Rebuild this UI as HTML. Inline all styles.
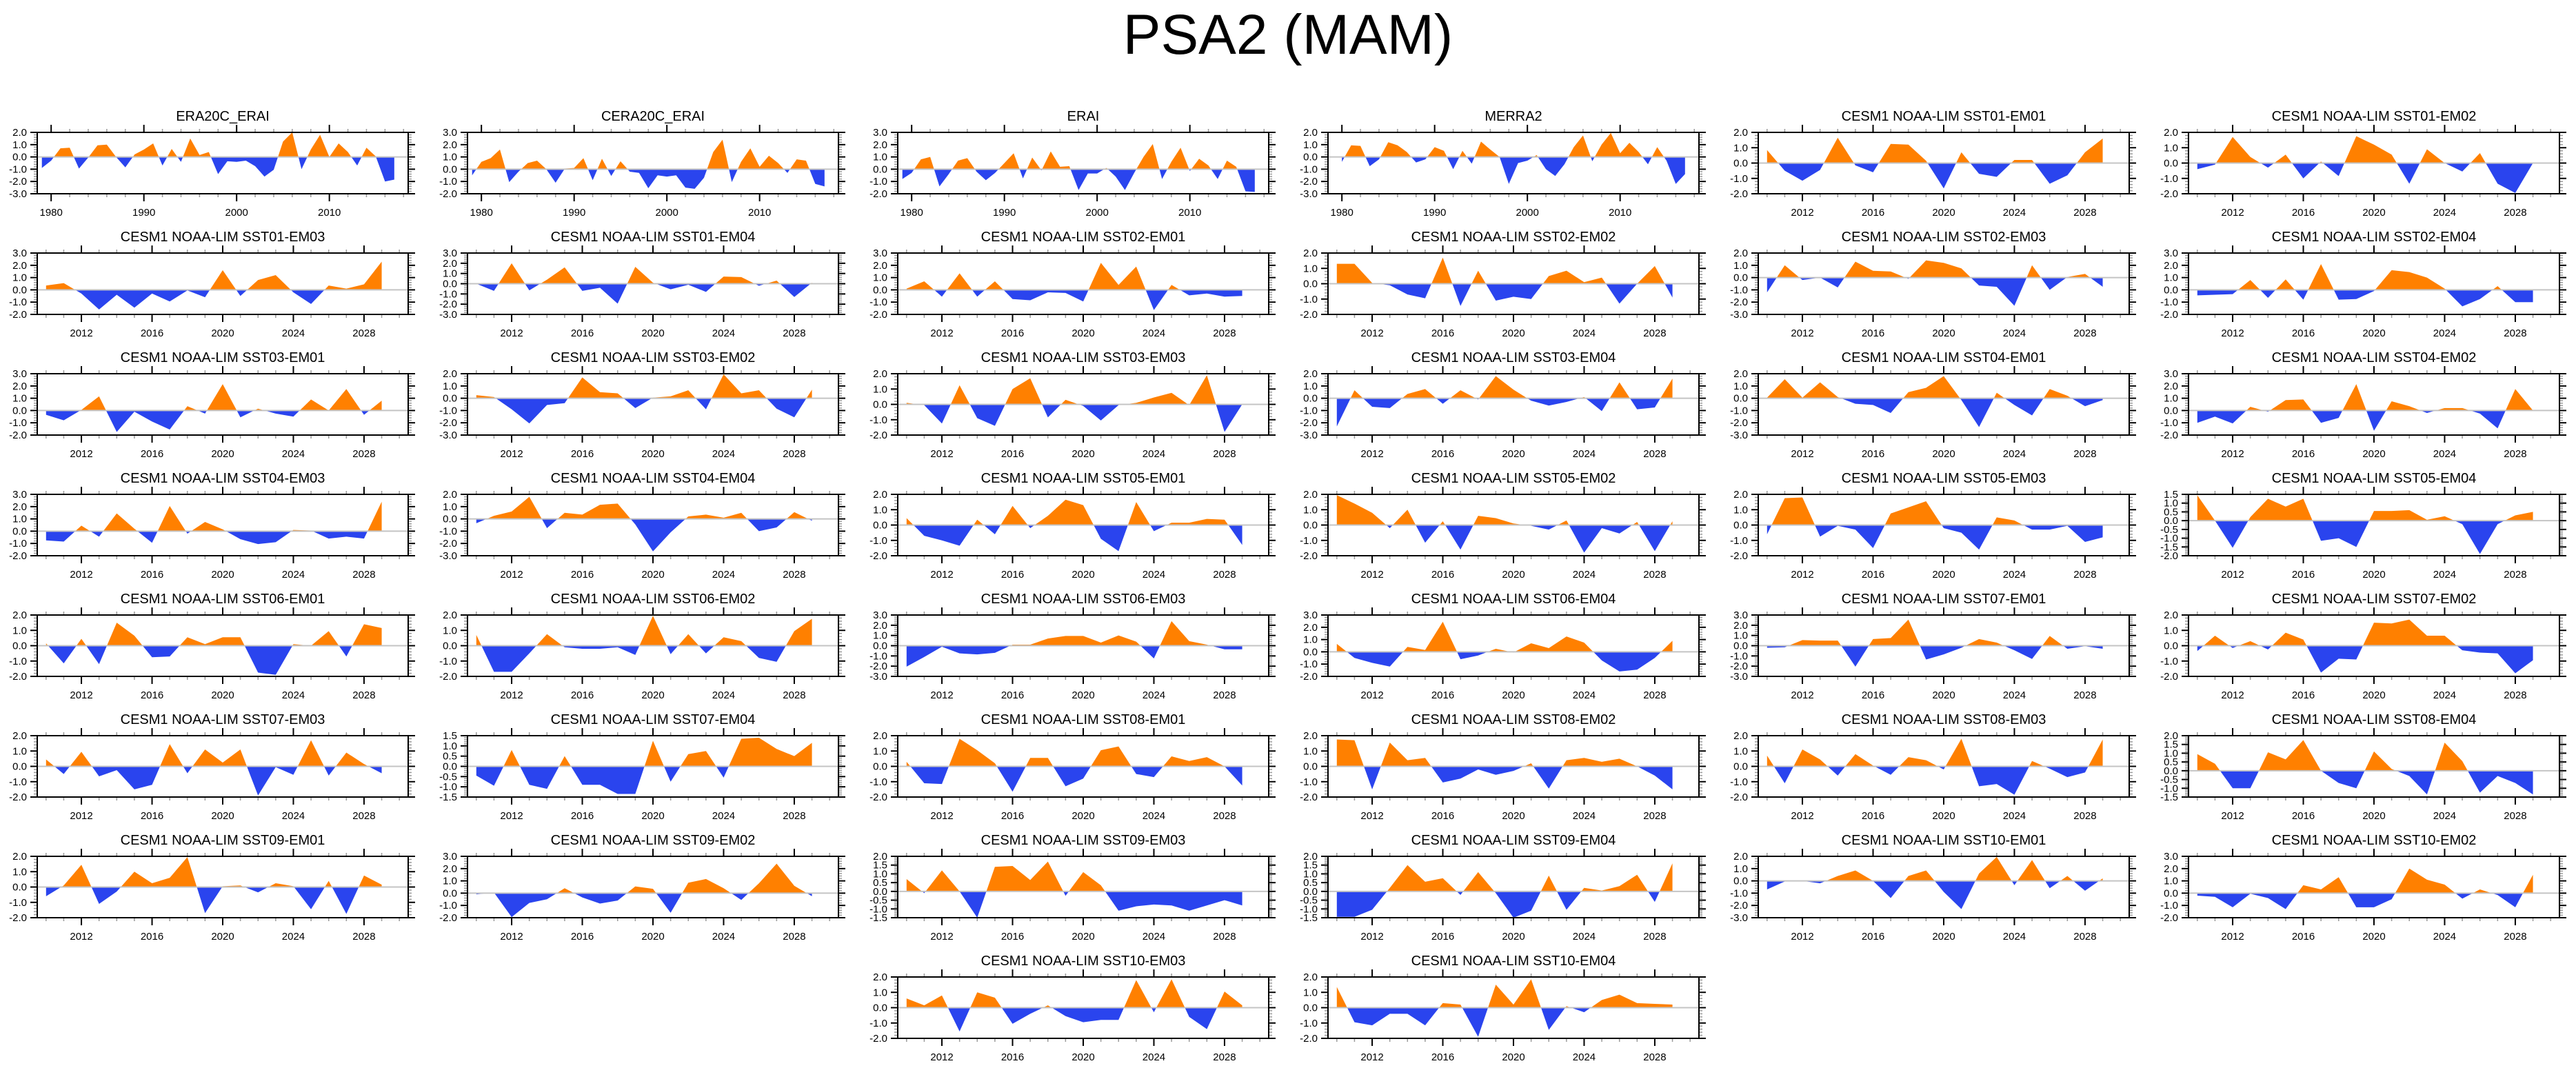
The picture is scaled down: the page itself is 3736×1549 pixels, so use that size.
<!DOCTYPE html>
<html><head><meta charset="utf-8"><title>PSA2 (MAM)</title>
<style>
html,body{margin:0;padding:0;background:#fff;}
svg{display:block;font-family:"Liberation Sans",Arial,sans-serif;}
</style></head>
<body>
<svg id="chart" width="3736" height="1549" viewBox="0 0 3736 1549" xmlns="http://www.w3.org/2000/svg">
<rect width="3736" height="1549" fill="#fff"/>
<text x="1868" y="78" text-anchor="middle" font-size="82" fill="#000">PSA2 (MAM)</text>
</svg>
<script>
const titles = ["ERA20C_ERAI","CERA20C_ERAI","ERAI","MERRA2",
"CESM1 NOAA-LIM SST01-EM01","CESM1 NOAA-LIM SST01-EM02","CESM1 NOAA-LIM SST01-EM03","CESM1 NOAA-LIM SST01-EM04",
"CESM1 NOAA-LIM SST02-EM01","CESM1 NOAA-LIM SST02-EM02","CESM1 NOAA-LIM SST02-EM03","CESM1 NOAA-LIM SST02-EM04",
"CESM1 NOAA-LIM SST03-EM01","CESM1 NOAA-LIM SST03-EM02","CESM1 NOAA-LIM SST03-EM03","CESM1 NOAA-LIM SST03-EM04",
"CESM1 NOAA-LIM SST04-EM01","CESM1 NOAA-LIM SST04-EM02","CESM1 NOAA-LIM SST04-EM03","CESM1 NOAA-LIM SST04-EM04",
"CESM1 NOAA-LIM SST05-EM01","CESM1 NOAA-LIM SST05-EM02","CESM1 NOAA-LIM SST05-EM03","CESM1 NOAA-LIM SST05-EM04",
"CESM1 NOAA-LIM SST06-EM01","CESM1 NOAA-LIM SST06-EM02","CESM1 NOAA-LIM SST06-EM03","CESM1 NOAA-LIM SST06-EM04",
"CESM1 NOAA-LIM SST07-EM01","CESM1 NOAA-LIM SST07-EM02","CESM1 NOAA-LIM SST07-EM03","CESM1 NOAA-LIM SST07-EM04",
"CESM1 NOAA-LIM SST08-EM01","CESM1 NOAA-LIM SST08-EM02","CESM1 NOAA-LIM SST08-EM03","CESM1 NOAA-LIM SST08-EM04",
"CESM1 NOAA-LIM SST09-EM01","CESM1 NOAA-LIM SST09-EM02","CESM1 NOAA-LIM SST09-EM03","CESM1 NOAA-LIM SST09-EM04",
"CESM1 NOAA-LIM SST10-EM01","CESM1 NOAA-LIM SST10-EM02","CESM1 NOAA-LIM SST10-EM03","CESM1 NOAA-LIM SST10-EM04"];

const startYears = [1979,1979,1979,1980];
const modelStartYear = 2010;

const yMins = [-3,-2,-2,-3,-2,-2,-2,-3,-2,-2,-3,-2,-2,-3,-2,-3,-3,-2,-2,-3,-2,-2,-2,-2,-2,-2,-3,-2,-3,-2,-2,-1.5,-2,-2,-2,-1.5,-2,-2,-1.5,-1.5,-3,-2,-2,-2];
const yMaxs = [2,3,3,2,2,2,3,3,3,2,2,3,3,2,2,2,2,3,3,2,2,2,2,1.5,2,2,3,3,3,2,2,1.5,2,2,2,2,2,3,2,2,2,3,2,2];
const ySteps = [1,1,1,1,1,1,1,1,1,1,1,1,1,1,1,1,1,1,1,1,1,1,1,0.5,1,1,1,1,1,1,1,0.5,1,1,1,0.5,1,1,0.5,0.5,1,1,1,1];

const series = [
[-0.9,-0.3,0.7,0.75,-0.95,-0.05,0.95,1.0,0.0,-0.85,0.2,0.6,1.1,-0.7,0.65,-0.4,1.5,0.15,0.4,-1.4,-0.35,-0.4,-0.3,-0.75,-1.6,-1.05,1.25,2.0,-1.0,0.6,1.8,0.0,1.1,0.4,-0.7,0.75,0.05,-2.0,-1.85],
[-0.5,0.6,0.9,1.6,-1.05,-0.2,0.5,0.7,0.0,-1.1,0.05,0.1,0.9,-0.9,0.85,-0.55,0.65,-0.2,-0.3,-1.55,-0.5,-0.6,-0.5,-1.5,-1.6,-0.7,1.4,2.4,-1.05,0.6,1.7,0.2,1.1,0.5,-0.3,0.8,0.7,-1.2,-1.4],
[-0.8,-0.3,0.8,1.0,-1.4,-0.4,0.7,0.9,-0.2,-0.9,-0.3,0.5,1.3,-0.75,0.95,-0.1,1.45,0.2,0.25,-1.7,-0.35,-0.35,0.1,-0.6,-1.7,-0.3,1.0,2.05,-0.8,0.6,1.75,-0.15,0.85,0.3,-0.8,0.7,0.2,-1.8,-1.85],
[-0.4,0.95,0.9,-0.75,-0.2,1.2,0.95,0.4,-0.45,-0.2,0.8,0.5,-1.0,0.5,-0.55,1.25,0.6,0.0,-2.2,-0.5,-0.3,0.15,-1.0,-1.55,-0.6,0.8,1.75,-0.35,1.0,1.95,0.3,1.15,0.4,-0.6,0.8,-0.3,-2.2,-1.4],
[0.85,-0.5,-1.15,-0.45,1.65,-0.15,-0.6,1.25,1.2,0.15,-1.65,0.7,-0.7,-0.9,0.2,0.2,-1.35,-0.8,0.7,1.6],
[-0.4,-0.1,1.7,0.4,-0.3,0.55,-1.0,0.1,-0.85,1.75,1.2,0.55,-1.35,0.9,0.0,-0.55,0.65,-1.35,-1.95,0.0],
[0.35,0.55,-0.3,-1.6,-0.4,-1.45,-0.3,-0.95,-0.05,-0.6,1.6,-0.5,0.8,1.2,-0.2,-1.15,0.35,0.1,0.45,2.3],
[0.0,-0.7,2.0,-0.65,0.4,1.6,-0.7,-0.4,-1.95,1.65,0.1,-0.55,-0.1,-0.8,0.7,0.65,-0.2,0.3,-1.3,0.1],
[0.1,0.7,-0.55,1.35,-0.55,0.7,-0.75,-0.85,-0.2,-0.25,-0.95,2.2,0.4,1.9,-1.65,0.4,-0.45,-0.3,-0.55,-0.5],
[1.3,1.3,0.05,-0.1,-0.7,-0.95,1.7,-1.45,0.85,-1.1,-0.85,-1.0,0.5,0.85,0.1,0.4,-1.3,0.0,1.15,-0.9],
[-1.2,1.0,-0.2,0.0,-0.8,1.3,0.55,0.5,-0.1,1.4,1.2,0.75,-0.65,-0.75,-2.3,1.0,-1.0,0.05,0.3,-0.75],
[-0.45,-0.4,-0.35,0.8,-0.65,0.85,-0.8,2.1,-0.8,-0.75,-0.1,1.6,1.45,1.0,0.1,-1.35,-0.75,0.3,-1.0,-1.0],
[-0.35,-0.8,0.05,1.15,-1.75,-0.1,-0.9,-1.55,0.35,-0.25,2.15,-0.55,0.15,-0.25,-0.5,0.9,0.0,1.75,-0.35,0.8],
[0.25,0.1,-0.9,-2.05,-0.55,-0.4,1.7,0.5,0.4,-0.8,0.05,0.15,0.65,-0.9,1.95,0.4,0.65,-0.85,-1.55,0.7],
[0.1,-0.05,-1.25,1.25,-0.9,-1.4,1.0,1.7,-0.85,0.3,-0.1,-1.05,-0.05,0.1,0.45,0.75,-0.05,1.9,-1.8,0.0],
[-2.3,0.65,-0.7,-0.8,0.35,0.75,-0.45,0.65,-0.1,1.8,0.7,-0.2,-0.6,-0.3,0.1,-1.05,1.3,-0.9,-0.75,1.6],
[0.05,1.55,0.05,1.3,0.1,-0.45,-0.55,-1.2,0.5,0.85,1.8,-0.15,-2.35,0.45,-0.55,-1.4,0.75,0.2,-0.65,-0.15],
[-1.0,-0.5,-1.05,0.3,-0.1,0.85,0.9,-1.0,-0.6,2.15,-1.65,0.75,0.35,-0.2,0.2,0.2,-0.25,-1.45,1.75,0.0],
[-0.75,-0.85,0.45,-0.45,1.45,0.2,-0.95,2.05,-0.2,0.75,0.15,-0.65,-1.05,-0.9,0.1,0.05,-0.6,-0.45,-0.6,2.4],
[-0.35,0.25,0.6,1.8,-0.75,0.5,0.35,1.15,1.25,-0.45,-2.65,-1.1,0.2,0.35,0.1,0.5,-1.0,-0.7,0.55,-0.15],
[0.45,-0.7,-1.0,-1.35,0.35,-0.6,1.25,-0.2,0.6,1.65,1.3,-0.9,-1.7,1.5,-0.4,0.15,0.15,0.4,0.35,-1.3],
[1.95,1.4,0.8,-0.2,1.0,-1.15,0.25,-1.6,0.6,0.45,0.1,-0.05,-0.3,0.3,-1.8,-0.2,-0.55,0.2,-1.7,0.25],
[-0.6,1.75,1.8,-0.75,-0.05,-0.3,-1.5,0.75,1.15,1.55,-0.2,-0.5,-1.6,0.5,0.3,-0.3,-0.3,-0.05,-1.1,-0.8],
[1.45,0.0,-1.55,0.2,1.25,0.8,1.25,-1.15,-1.0,-1.5,0.55,0.55,0.6,0.05,0.25,-0.2,-1.9,-0.2,0.3,0.5],
[0.15,-1.15,0.45,-1.2,1.5,0.65,-0.75,-0.7,0.55,0.1,0.55,0.55,-1.75,-1.9,0.1,0.0,0.95,-0.7,1.4,1.15],
[0.7,-1.7,-1.7,-0.5,0.75,-0.1,-0.2,-0.2,-0.1,-0.6,1.95,-0.55,0.75,-0.5,0.55,0.3,-0.8,-1.05,0.95,1.75],
[-2.05,-1.1,-0.1,-0.75,-0.85,-0.7,0.1,0.1,0.7,0.95,0.95,0.3,1.0,0.4,-1.25,2.4,0.45,0.1,-0.35,-0.35],
[0.65,-0.5,-0.9,-1.2,0.4,0.15,2.45,-0.6,-0.3,0.25,-0.05,0.7,0.3,1.25,0.75,-0.7,-1.6,-1.45,-0.5,0.9],
[-0.2,-0.15,0.55,0.5,0.5,-2.05,0.65,0.75,2.55,-1.35,-0.85,-0.2,0.65,0.3,-0.45,-1.3,0.95,-0.3,-0.05,-0.3],
[-0.35,0.65,-0.15,0.3,-0.25,0.85,0.4,-1.75,-0.85,-0.9,1.5,1.45,1.7,0.65,0.65,-0.3,-0.45,-0.5,-1.8,-0.95],
[0.45,-0.5,0.95,-0.65,-0.25,-1.5,-1.2,1.45,-0.45,1.1,0.25,1.1,-1.9,-0.05,-0.55,1.7,-0.6,0.9,0.15,-0.45],
[-0.45,-0.95,0.8,-0.9,-1.1,0.5,-0.9,-0.9,-1.35,-1.35,1.25,-0.75,0.6,0.75,-0.55,1.35,1.4,0.85,0.5,1.15],
[0.3,-1.1,-1.15,1.8,1.05,0.2,-1.65,0.55,0.55,-1.3,-0.8,1.05,1.3,-0.5,-0.7,0.65,0.35,0.6,0.0,-1.25],
[1.75,1.7,-1.5,1.55,0.4,0.55,-1.05,-0.8,-0.2,-0.55,-0.3,0.2,-1.45,0.4,0.55,0.3,0.5,0.0,-0.6,-1.5],
[0.7,-1.1,1.1,0.45,-0.6,0.8,0.05,-0.55,0.6,0.4,-0.2,1.8,-1.3,-1.15,-1.85,0.35,-0.15,-0.7,-0.4,1.75],
[0.95,0.4,-1.0,-1.0,1.05,0.65,1.75,0.0,-0.7,-1.0,1.1,0.1,-0.3,-1.35,1.6,0.55,-1.25,-0.3,-0.7,-1.35],
[-0.6,0.1,1.45,-1.1,-0.3,1.0,0.25,0.6,1.95,-1.7,0.05,0.1,-0.35,0.25,0.05,-1.45,0.4,-1.75,0.75,0.15],
[-0.1,0.05,-1.95,-0.8,-0.5,0.4,-0.35,-0.85,-0.6,0.55,0.35,-1.6,0.85,1.15,0.4,-0.55,0.8,2.4,0.6,-0.25],
[0.7,-0.1,1.2,0.0,-1.5,1.4,1.45,0.65,1.7,-0.25,1.1,0.35,-1.1,-0.85,-0.75,-0.8,-1.1,-0.8,-0.5,-0.8],
[-1.45,-1.45,-1.05,0.2,1.5,0.55,0.75,-0.2,1.1,-0.1,-1.5,-1.1,0.9,-1.05,0.2,0.05,0.3,0.95,-0.6,1.6],
[-0.7,-0.05,0.0,-0.2,0.4,0.85,0.0,-1.4,0.4,0.85,-0.9,-2.3,0.6,1.95,-0.35,1.7,-0.6,0.4,-0.8,0.2],
[-0.2,-0.3,-1.15,-0.05,-0.4,-1.3,0.65,0.3,1.3,-1.15,-1.15,-0.5,2.0,1.1,0.7,-0.45,0.3,-0.15,-1.15,1.5],
[0.6,0.15,0.8,-1.55,1.0,0.65,-1.05,-0.4,0.15,-0.55,-0.95,-0.8,-0.8,1.8,-0.3,1.85,-0.6,-1.4,1.05,0.15],
[1.35,-0.95,-1.15,-0.4,-0.4,-1.15,0.3,0.2,-1.9,1.5,0.2,1.85,-1.45,0.1,-0.3,0.5,0.85,0.3,0.25,0.2]
];

const reTickYears = [1980,1990,2000,2010];
const modelTickYears = [2012,2016,2020,2024,2028];

(function(){
  const svg = document.getElementById('chart');
  const NS = 'http://www.w3.org/2000/svg';
  const W = 538, H = 89, colX0 = 54, colPitch = 624, rowY0 = 192, rowPitch = 175;
  const ORANGE = '#ff8000', BLUE = '#2a44ee';
  function mk(tag, attrs, parent){
    const e = document.createElementNS(NS, tag);
    for (const k in attrs) e.setAttribute(k, attrs[k]);
    (parent||svg).appendChild(e);
    return e;
  }
  function fmt(v){ return (v<0?'-':'') + Math.abs(v).toFixed(1); }

  titles.forEach(function(title, i){
    let col, row;
    if (i < 42){ col = i % 6; row = Math.floor(i/6); }
    else { col = 2 + (i-42); row = 7; }
    const L = colX0 + col*colPitch, T = rowY0 + row*rowPitch, R = L + W, B = T + H;
    const isRe = i < 4;
    const xmin = isRe ? 1978.5 : 2009.5, xmax = isRe ? 2018.5 : 2030.5;
    const sx = function(yr){ return L + (yr - xmin)/(xmax - xmin)*W; };
    const ymin = yMins[i], ymax = yMaxs[i], ystep = ySteps[i];
    const sy = function(v){ return B - (v - ymin)/(ymax - ymin)*H; };
    const vals = series[i];
    const y0 = isRe ? startYears[i] : modelStartYear;

    const g = mk('g', {});
    
    

    const tt = mk('text', {x:(L+R)/2, y:T-17, 'text-anchor':'middle', 'font-size':20, fill:'#000'}, g);
    tt.textContent = title;
    
    

    const pts = [];
    for (let k=0;k<vals.length;k++){
      const yr = y0 + k, v = vals[k];
      if (k>0){
        const pv = vals[k-1];
        if ((pv>0 && v<0) || (pv<0 && v>0)){
          const t = pv/(pv - v);
          pts.push([yr-1+t, 0]);
        }
      }
      pts.push([yr, v]);
    }
    function poly(sign){
      let d = 'M' + sx(pts[0][0]).toFixed(2) + ',' + sy(0).toFixed(2);
      pts.forEach(function(p){
        const v = sign>0 ? Math.max(p[1],0) : Math.min(p[1],0);
        d += 'L' + sx(p[0]).toFixed(2) + ',' + sy(v).toFixed(2);
      });
      d += 'L' + sx(pts[pts.length-1][0]).toFixed(2) + ',' + sy(0).toFixed(2) + 'Z';
      return d;
    }
    const pos = mk('path', {d:poly(1), fill:ORANGE, stroke:'none'}, g);
    
    
    const neg = mk('path', {d:poly(-1), fill:BLUE, stroke:'none'}, g);
    
    

    const zl = mk('line', {x1:L, x2:R, y1:sy(0), y2:sy(0), stroke:'#c4c4c4', 'stroke-width':2}, g);
    
    

    const nMinor = 5;
    const mstep = ystep / nMinor;
    const nm = Math.round((ymax - ymin)/mstep);
    for (let k=0;k<=nm;k++){
      const v = ymin + k*mstep, y = sy(v);
      const major = (k % nMinor) === 0;
      const len = major ? 10 : 5, col2 = major ? '#000' : '#999';
      mk('line', {x1:L-len, x2:L, y1:y, y2:y, stroke:col2, 'stroke-width':major?2:1.5}, g);
      mk('line', {x1:R, x2:R+len, y1:y, y2:y, stroke:col2, 'stroke-width':major?2:1.5}, g);
      if (major){
        const lb = mk('text', {x:L-15, y:y+5, 'text-anchor':'end', 'font-size':15, fill:'#000'}, g);
        lb.textContent = fmt(v);
        
        
      }
    }
    const majors = isRe ? reTickYears : modelTickYears;
    const minorStep = isRe ? 2 : 1;
    for (let yr=Math.ceil(xmin); yr<=xmax; yr++){
      if ((yr % minorStep) !== 0 && majors.indexOf(yr) < 0) continue;
      const x = sx(yr), major = majors.indexOf(yr) >= 0;
      const len = major ? 11 : 5, c = major ? '#000' : '#999';
      mk('line', {x1:x, x2:x, y1:B, y2:B+len, stroke:c, 'stroke-width':major?2:1.5}, g);
      mk('line', {x1:x, x2:x, y1:T-len, y2:T, stroke:c, 'stroke-width':major?2:1.5}, g);
      if (major){
        const lb = mk('text', {x:x, y:B+32, 'text-anchor':'middle', 'font-size':15, fill:'#000'}, g);
        lb.textContent = String(yr);
        
        
      }
    }
    const fr = mk('rect', {x:L, y:T, width:W, height:H, fill:'none', stroke:'#000', 'stroke-width':2}, g);
    
    
  });
})();
</script>
</body></html>
